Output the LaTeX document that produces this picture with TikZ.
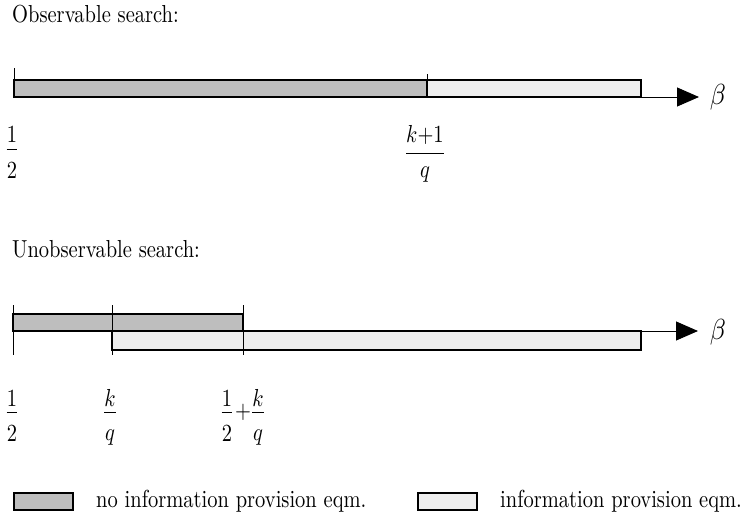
\documentclass[tikz,border=0pt]{standalone}
\usetikzlibrary{arrows.meta}
\definecolor{noinfo}{RGB}{190,190,190}
\definecolor{info}{RGB}{238,238,238}
\newcommand{\tallbox}[1]{\scalebox{2.05}[2.46]{#1}}
\newcommand{\betabox}[1]{\scalebox{2.6}[2.9]{#1}}

\begin{document}
\begin{tikzpicture}[x=1pt, y=-1pt,
	% Define styles
	lbl/.style={inner sep=0pt},
	nobar/.style={draw=black, line width=1.5pt, fill=noinfo},
	inbar/.style={draw=black, line width=1.5pt, fill=info},
	axisline/.style={draw=black, line width=1pt, -{Triangle[length=22pt, width=19pt]}},
	tickline/.style={draw=black, line width=1pt},
	fracbar/.style={draw=black, line width=1pt}
	]
	\useasboundingbox (0,0) rectangle (756,520);
	
	% Observable search
	\node[lbl, anchor=base west] (obstitle) at (12,22) {\tallbox{Observable search:}};
	\filldraw[nobar] (14,80) rectangle (427,97);
	\filldraw[inbar] (427,80) rectangle (641,97);
	\draw[tickline] (14,68) -- (14,97);
	\draw[tickline] (427,74) -- (427,97);
	\coordinate (obsorigin) at (14,97);
	\coordinate (obsend) at (699,97);
	\draw[axisline] (obsorigin) -- (obsend);
	\node[lbl] (obsbeta) at (718,97) {\betabox{$\beta$}};
	
	% Labels under the observable axis
	\node[lbl, anchor=base] (obshalfnum) at (12,142) {\tallbox{$1$}};
	\node[lbl, anchor=base] (obshalfden) at (12,178) {\tallbox{$2$}};
	\draw[fracbar] ([yshift=-7pt]obshalfnum.south west) -- ([yshift=-7pt]obshalfnum.south east);
	\node[lbl, anchor=base] (obskqnum) at (425,142) {\tallbox{$k{+}1$}};
	\node[lbl, anchor=base] (obskqden) at (425,177) {\tallbox{$q$}};
	\draw[fracbar] ([yshift=-9pt]obskqnum.south west) -- ([yshift=-9pt]obskqnum.south east);
	
	% Unobservable search
	\node[lbl, anchor=base west] (unobstitle) at (12,257) {\tallbox{Unobservable search:}};
	\filldraw[nobar] (13,314) rectangle (243,331);
	\filldraw[inbar] (112,331) rectangle (641,350);
	\draw[tickline] (13,305) -- (13,355);
	\draw[tickline] (112,305) -- (112,355);
	\draw[tickline] (243,305) -- (243,355);
	\coordinate (unobsorigin) at (13,331);
	\coordinate (unobsend) at (698,331);
	\draw[axisline] (unobsorigin) -- (unobsend);
	\node[lbl] (unobsbeta) at (718,332) {\betabox{$\beta$}};
	
	% Labels under the unobservable axis
	\node[lbl, anchor=base] (unhalfnum) at (12,406) {\tallbox{$1$}};
	\node[lbl, anchor=base] (unhalfden) at (12,441) {\tallbox{$2$}};
	\draw[fracbar] ([yshift=-6pt]unhalfnum.south west) -- ([yshift=-6pt]unhalfnum.south east);
	\node[lbl, anchor=base] (unkqnum) at (110,406) {\tallbox{$k$}};
	\node[lbl, anchor=base] (unkqden) at (110,440) {\tallbox{$q$}};
	\draw[fracbar] ([yshift=-6pt]unkqnum.south west) -- ([yshift=-6pt]unkqnum.south east);
	\node[lbl, anchor=base] (sumhalfnum) at (227,406) {\tallbox{$1$}};
	\node[lbl, anchor=base] (sumhalfden) at (227,441) {\tallbox{$2$}};
	\draw[fracbar] ([yshift=-6pt]sumhalfnum.south west) -- ([yshift=-6pt]sumhalfnum.south east);
	\node[lbl] (sumplus) at (243,412) {\tallbox{$+$}};
	\node[lbl, anchor=base] (sumkqnum) at (258,406) {\tallbox{$k$}};
	\node[lbl, anchor=base] (sumkqden) at (258,440) {\tallbox{$q$}};
	\draw[fracbar] ([yshift=-6pt]sumkqnum.south west) -- ([yshift=-6pt]sumkqnum.south east);
	
	% Legend
	\filldraw[nobar] (14,493) rectangle (73,510);
	\node[lbl, anchor=west] (nolegend) at (96,501) {\tallbox{no information provision eqm.}};
	\filldraw[inbar] (418,493) rectangle (477,510);
	\node[lbl, anchor=west] (inlegend) at (500,501) {\tallbox{information provision eqm.}};
	
\end{tikzpicture}
\end{document}
